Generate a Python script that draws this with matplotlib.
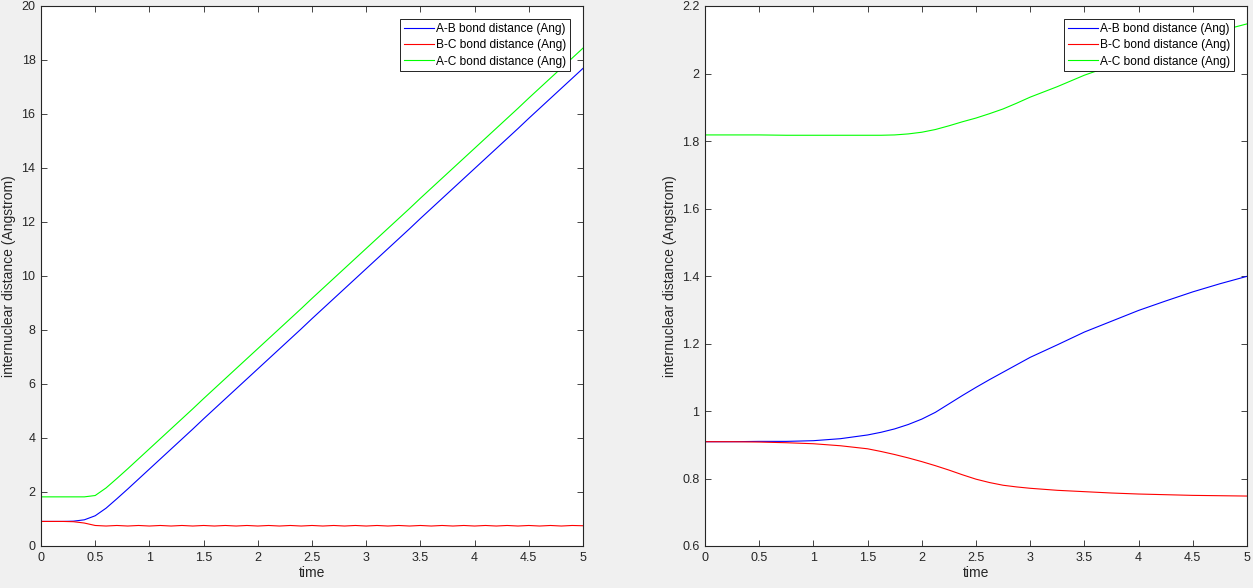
import matplotlib
matplotlib.use('Agg')
from matplotlib import pyplot as plt

plt.rcParams['font.family'] = ['Liberation Sans', 'DejaVu Sans']

# left run: step 0.1
t_left = [i / 10 for i in range(51)]
ab_left = [0.91, 0.91, 0.91, 0.92, 0.97, 1.12, 1.40, 1.75, 2.11, 2.48, 2.85,
           3.22, 3.59, 3.96, 4.33, 4.71, 5.08, 5.45, 5.82, 6.19, 6.56,
           6.93, 7.30, 7.67, 8.04, 8.42, 8.79, 9.16, 9.53, 9.90, 10.27,
           10.64, 11.01, 11.38, 11.75, 12.13, 12.50, 12.87, 13.24, 13.61, 13.98,
           14.35, 14.72, 15.09, 15.46, 15.84, 16.21, 16.58, 16.95, 17.32, 17.69]
bc_left = [0.91, 0.91, 0.91, 0.90, 0.85, 0.76, 0.74, 0.76, 0.74, 0.76, 0.74,
           0.76, 0.74, 0.76, 0.74, 0.76, 0.74, 0.76, 0.74, 0.76, 0.74,
           0.76, 0.74, 0.76, 0.74, 0.76, 0.74, 0.76, 0.74, 0.76, 0.74,
           0.76, 0.74, 0.76, 0.74, 0.76, 0.74, 0.76, 0.74, 0.76, 0.74,
           0.76, 0.74, 0.76, 0.74, 0.76, 0.74, 0.76, 0.74, 0.76, 0.75]
ac_left = [1.82, 1.82, 1.82, 1.82, 1.82, 1.87, 2.15, 2.50, 2.86, 3.23, 3.60,
           3.97, 4.34, 4.71, 5.08, 5.46, 5.83, 6.20, 6.57, 6.94, 7.31,
           7.68, 8.05, 8.42, 8.79, 9.17, 9.54, 9.91, 10.28, 10.65, 11.02,
           11.39, 11.76, 12.13, 12.50, 12.88, 13.25, 13.62, 13.99, 14.36, 14.73,
           15.10, 15.47, 15.84, 16.21, 16.59, 16.96, 17.33, 17.70, 18.07, 18.44]

# right run: finer sampling through the bend
t_right = [0, 0.25, 0.5, 0.75, 1.0, 1.25, 1.5, 1.625, 1.75, 1.875, 2.0, 2.125,
           2.25, 2.375, 2.5, 2.625, 2.75, 2.875, 3.0, 3.25, 3.5, 3.75, 4.0,
           4.25, 4.5, 4.75, 5.0]
ab_right = [0.909, 0.909, 0.910, 0.910, 0.912, 0.918, 0.929, 0.937, 0.947, 0.960, 0.976, 0.996,
            1.021, 1.046, 1.070, 1.093, 1.115, 1.137, 1.159, 1.196, 1.234, 1.266, 1.298,
            1.326, 1.353, 1.377, 1.399]
bc_right = [0.909, 0.909, 0.908, 0.906, 0.903, 0.897, 0.888, 0.880, 0.871, 0.861, 0.850, 0.838,
            0.825, 0.811, 0.798, 0.788, 0.780, 0.775, 0.771, 0.765, 0.761, 0.757, 0.754,
            0.752, 0.750, 0.749, 0.748]
ac_right = [1.818, 1.818, 1.818, 1.817, 1.817, 1.817, 1.817, 1.817, 1.818, 1.821, 1.826, 1.834,
            1.845, 1.857, 1.868, 1.881, 1.895, 1.912, 1.930, 1.961, 1.995, 2.023, 2.052,
            2.078, 2.103, 2.126, 2.147]

labels = ['A-B bond distance (Ang)', 'B-C bond distance (Ang)', 'A-C bond distance (Ang)']
dark = '#262626'

fig = plt.figure(figsize=(12.53, 5.88), dpi=100, facecolor='#f0f0f0')
ax1 = fig.add_axes([41 / 1253, 42 / 588, 542 / 1253, 540 / 588])
ax2 = fig.add_axes([705 / 1253, 42 / 588, 542 / 1253, 540 / 588])


def setup(ax, t, ab, bc, ac, ylim, yticks, yticklabels):
    ax.plot(t, ab, color='#0000ff', lw=0.8, label=labels[0])
    ax.plot(t, bc, color='#ff0000', lw=0.8, label=labels[1])
    ax.plot(t, ac, color='#00ff00', lw=0.8, label=labels[2])
    ax.set_xlim(0, 5)
    ax.set_ylim(*ylim)
    xt = [i / 2 for i in range(11)]
    ax.set_xticks(xt, ['0', '0.5', '1', '1.5', '2', '2.5', '3', '3.5', '4', '4.5', '5'])
    ax.set_yticks(yticks, yticklabels)
    ax.tick_params(direction='in', top=True, right=True, length=4, width=0.6,
                   labelsize=9, colors=dark, pad=4)
    for s in ax.spines.values():
        s.set_color(dark)
        s.set_linewidth(0.8)
    ax.set_xlabel('time', fontsize=10, color=dark, labelpad=2)
    ax.set_ylabel('internuclear distance (Angstrom)', fontsize=10, color=dark, labelpad=4)
    leg = ax.legend(loc='upper right', fontsize=8.6, frameon=True, fancybox=False,
                    edgecolor='black', framealpha=1, handlelength=2.5,
                    handletextpad=0.2, borderpad=0.3, labelspacing=0.37,
                    borderaxespad=1.1)
    leg.get_frame().set_linewidth(0.6)


setup(ax1, t_left, ab_left, bc_left, ac_left, (0, 20),
      list(range(0, 21, 2)), [str(v) for v in range(0, 21, 2)])
setup(ax2, t_right, ab_right, bc_right, ac_right, (0.6, 2.2),
      [0.6, 0.8, 1.0, 1.2, 1.4, 1.6, 1.8, 2.0, 2.2],
      ['0.6', '0.8', '1', '1.2', '1.4', '1.6', '1.8', '2', '2.2'])

fig.savefig('out.png', dpi=100, facecolor=fig.get_facecolor())
